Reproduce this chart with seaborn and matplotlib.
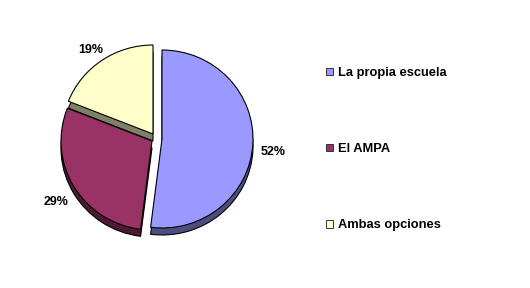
import matplotlib
matplotlib.use("Agg")
import matplotlib.pyplot as plt
import seaborn as sns

categories = ["La propia escuela", "El AMPA", "Ambas opciones"]
values = [52, 29, 19]
top_colors = ["#9999FF", "#993366", "#FFFFCC"]
side_colors = ["#4D4D80", "#4D1A33", "#808066"]

sns.set_theme(style="white")
plt.rcParams["font.family"] = ["Liberation Sans Narrow", "Liberation Sans", "DejaVu Sans"]

W, H = 530, 288
fig = plt.figure(figsize=(W / 100, H / 100), dpi=100)
fig.patch.set_facecolor("white")

cx, cy, rx, ry = 153.0, 134.0, 91.0, 89.0
ax = fig.add_axes([(cx - 1.2 * rx) / W, (H - cy - 1.2 * ry) / H, 2.4 * rx / W, 2.4 * ry / H])

# per-slice offsets of the 3-D look (pixels: right, down)
offsets_px = [(9, 5), (-1, 7), (0, 0)]
offsets = [(dx / rx, -dy / ry) for dx, dy in offsets_px]
depth = 7.0 / ry
label_drop = 6.0 / ry

side_pal = sns.color_palette(side_colors)
top_pal = sns.color_palette(top_colors)

side_wedges, _ = ax.pie(values, colors=side_pal, startangle=90, counterclock=False,
                        center=(0, 0), radius=1.0, frame=True,
                        wedgeprops=dict(edgecolor="black", linewidth=0.8))
wedges, texts, autotexts = ax.pie(
    values, colors=top_pal, startangle=90, counterclock=False,
    center=(0, 0), radius=1.0, frame=True, autopct="%1.0f%%", pctdistance=1.22,
    wedgeprops=dict(edgecolor="black", linewidth=0.8),
    textprops=dict(fontsize=9, fontweight="bold", color="black"))

for sw, w, at, (ox, oy) in zip(side_wedges, wedges, autotexts, offsets):
    sw.set_center((ox, oy - depth))
    w.set_center((ox, oy))
    x, y = at.get_position()
    at.set_position((x + ox, y + oy - label_drop))
for sw in side_wedges:
    sw.set_zorder(1)
for w in wedges:
    w.set_zorder(2)

ax.set_xlim(-1.2, 1.2)
ax.set_ylim(-1.2, 1.2)
ax.set_aspect("auto")
ax.set_axis_off()

fs = 9.3
leg = fig.legend(wedges, categories, loc="upper left",
                 bbox_to_anchor=(326 / W, (H - 67) / H), frameon=False,
                 borderpad=0, borderaxespad=0, labelspacing=4.97,
                 handlelength=0.54, handleheight=0.54, handletextpad=0.39,
                 prop=dict(family=["Liberation Sans", "DejaVu Sans"], weight="bold", size=fs))
for t in leg.get_texts():
    t.set_color("black")
for h in leg.legend_handles:
    h.set_edgecolor("#333333")
    h.set_linewidth(0.7)

fig.savefig("out.png", dpi=100, facecolor="white")
